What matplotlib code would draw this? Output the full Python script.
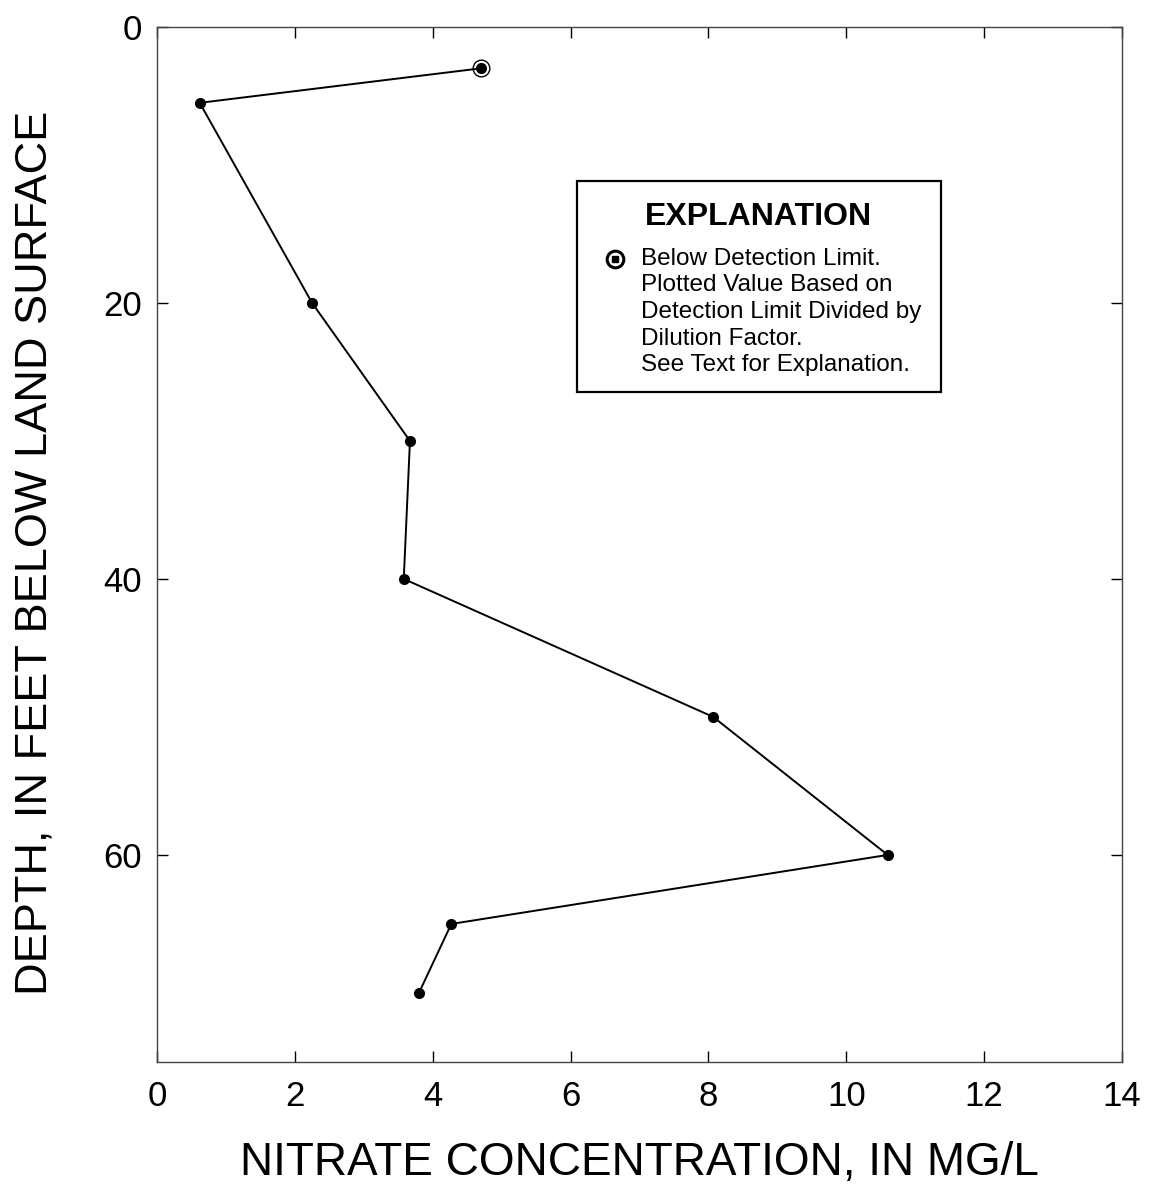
import matplotlib
matplotlib.use("Agg")
import matplotlib.pyplot as plt

plt.rcParams['font.family'] = ['Liberation Sans', 'DejaVu Sans']

# Nitrate profile: concentration (mg/L) versus depth (ft)
nitrate = [4.7, 0.62, 2.25, 3.67, 3.58, 8.07, 10.6, 4.27, 3.8]
depth = [3, 5.5, 20, 30, 40, 50, 60, 65, 70]
# Index of samples below detection limit
below_limit = [0]

x_ticks = [0, 2, 4, 6, 8, 10, 12, 14]
y_ticks = [0, 20, 40, 60]

fig = plt.figure(figsize=(11.51, 11.86), dpi=100)
ax = fig.add_axes([0.1364, 0.1046, 0.8384, 0.8727])

ax.plot(nitrate, depth, color='black', lw=1.4, marker='o', ms=7, zorder=3)
for i in below_limit:
    ax.plot(nitrate[i], depth[i], marker='o', ms=12, mfc='none', mec='black',
            mew=1.0, linestyle='none', zorder=4)

ax.set_xlim(0, 14)
ax.set_ylim(75, 0)
ax.set_xticks(x_ticks)
ax.set_yticks(y_ticks)
ax.tick_params(direction='in', length=8, width=1, top=True, right=True,
               labelsize=25)
ax.tick_params(axis='x', pad=13)
ax.tick_params(axis='y', pad=11)
for s in ax.spines.values():
    s.set_linewidth(1.0)
    s.set_color('#444444')

ax.set_xlabel('NITRATE CONCENTRATION, IN MG/L', fontsize=33, labelpad=20)
ax.set_ylabel('DEPTH, IN FEET BELOW LAND SURFACE', fontsize=32.5)
ax.yaxis.set_label_coords(-0.105, 0.492)

# Explanation box
box = plt.Rectangle((0.435, 0.647), 0.377, 0.204, transform=ax.transAxes,
                    fill=False, ec='black', lw=1.6, zorder=5)
ax.add_patch(box)
ax.text(0.6235, 0.816, 'EXPLANATION', transform=ax.transAxes, ha='center',
        va='center', fontsize=23, fontweight='bold')
ax.plot([0.475], [0.776], transform=ax.transAxes, marker='o', ms=12,
        mfc='none', mec='black', mew=2.2, clip_on=False)
ax.plot([0.475], [0.776], transform=ax.transAxes, marker='s', ms=4,
        color='black', clip_on=False)
lines = ['Below Detection Limit.', 'Plotted Value Based on',
         'Detection Limit Divided by', 'Dilution Factor.',
         'See Text for Explanation.']
for k, t in enumerate(lines):
    ax.text(0.5016, 0.776 - k * 0.0257, t, transform=ax.transAxes,
            ha='left', va='center', fontsize=17.5)

fig.savefig('out.png', dpi=100)
